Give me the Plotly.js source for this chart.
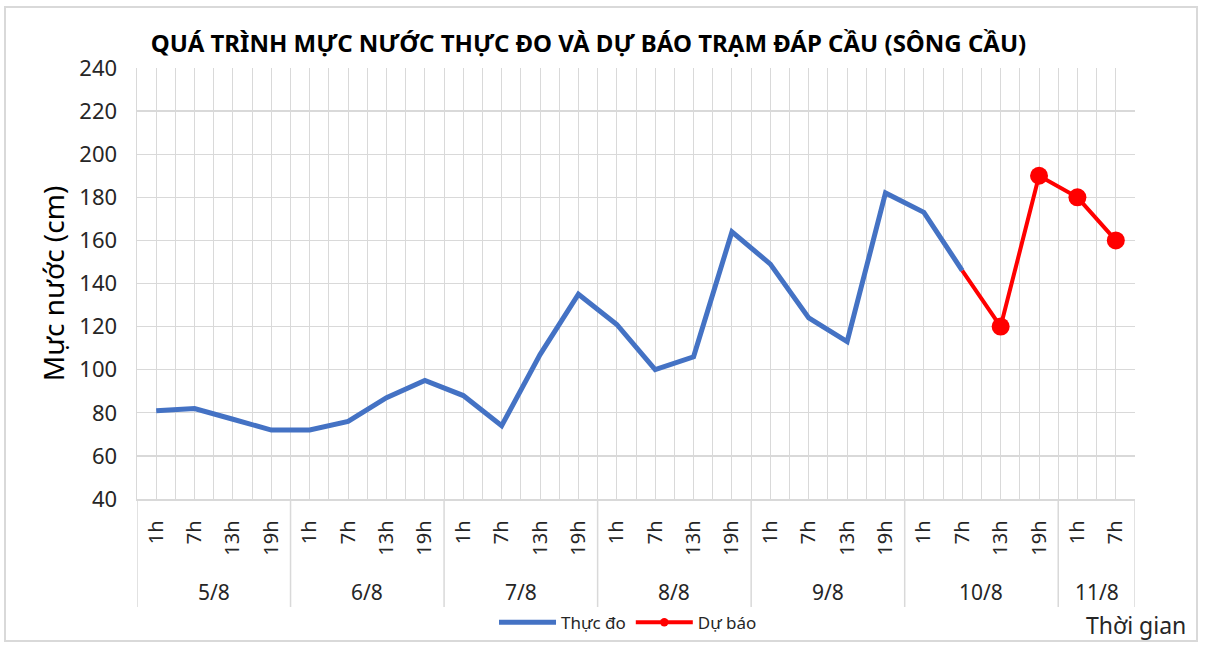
<!DOCTYPE html>
<html><head><meta charset="utf-8">
<script src="https://cdn.plot.ly/plotly-3.0.1.min.js"></script>
<style>
body{margin:0;background:#fff;}
#frame{position:absolute;left:4px;top:6px;width:1190px;height:632px;border:2px solid #d9d9d9;pointer-events:none;}
</style>
</head><body>
<div id="chart" style="width:1206px;height:646px;"></div>
<div id="frame"></div>
<script>
// ---- data ----
const hours = ['1h','7h','13h','19h','1h','7h','13h','19h','1h','7h','13h','19h','1h','7h','13h','19h','1h','7h','13h','19h','1h','7h','13h','19h','1h','7h'];
const days  = ['5/8','5/8','5/8','5/8','6/8','6/8','6/8','6/8','7/8','7/8','7/8','7/8','8/8','8/8','8/8','8/8','9/8','9/8','9/8','9/8','10/8','10/8','10/8','10/8','11/8','11/8'];
const observed = [81,82,77,72,72,76,87,95,88,74,107,135,121,100,106,164,149,124,113,182,173,146,null,null,null,null];
const forecast = [null,null,null,null,null,null,null,null,null,null,null,null,null,null,null,null,null,null,null,null,null,146,120,190,180,160];
const seriesNames = ['Thực đo','Dự báo'];
const titleText = 'QUÁ TRÌNH MỰC NƯỚC THỰC ĐO VÀ DỰ BÁO TRẠM ĐÁP CẦU (SÔNG CẦU)';
const yTitle = 'Mực nước (cm)';
const xTitle = 'Thời gian';

// ---- build ----
const idx = hours.map((_, i) => i);
const FONT = 'Noto Sans, sans-serif';

// group boundaries and centers
const groups = [];
days.forEach((d, i) => {
  if (!groups.length || groups[groups.length - 1].label !== d) groups.push({label: d, start: i, end: i});
  else groups[groups.length - 1].end = i;
});

const shapes = [];
const annotations = [];
const divDepth = -108 / 431;
groups.forEach((g, k) => {
  if (k === 0) shapes.push({type:'line', xref:'x', yref:'paper', x0:g.start-0.5, x1:g.start-0.5, y0:0, y1:divDepth, line:{color:'#d9d9d9', width:1.5}});
  shapes.push({type:'line', xref:'x', yref:'paper', x0:g.end+0.5, x1:g.end+0.5, y0:0, y1:divDepth, line:{color:'#d9d9d9', width:1.5}});
  annotations.push({xref:'x', yref:'paper', x:(g.start+g.end)/2, y:-0.2158, text:g.label, showarrow:false, yanchor:'middle', font:{family:FONT, size:21, color:'#262626'}});
});
annotations.push({xref:'paper', yref:'paper', x:1.001, y:-0.292, text:xTitle, showarrow:false, xanchor:'center', yanchor:'middle', font:{family:FONT, size:23, color:'#262626'}});

// marker sizes: hidden at the junction point (shared with observed); sizes at empty
// (null) positions are never drawn, they only set the size of the legend dot (mean).
const DOT = 18, LEGEND_FILL = 7;
const markerSizes = forecast.map((v, i) => v === null ? LEGEND_FILL : (observed[i] !== null ? 0 : DOT));

const traces = [
  {x: idx, y: observed, name: seriesNames[0], mode: 'lines', line: {color:'#4472C4', width:5}, hoverinfo:'skip'},
  {x: idx, y: forecast, name: seriesNames[1], mode: 'lines+markers', line: {color:'#FF0000', width:4},
   marker: {color:'#FF0000', size: markerSizes, opacity: 1, line: {width: 0}}, hoverinfo:'skip'}
];

const layout = {
  width: 1206, height: 646,
  margin: {l:137, r:71, t:68, b:147, autoexpand: false},
  paper_bgcolor: '#fff', plot_bgcolor: '#fff',
  showlegend: true,
  title: {text: titleText, font: {family: FONT, size: 24, color: '#000', weight: 'bold'}, x: 0.488, xanchor: 'center', y: 0.932, yanchor: 'middle'},
  xaxis: {
    range: [-0.5, idx.length - 0.5], tickmode: 'array', tickvals: idx, ticktext: hours,
    tickangle: -90, tickfont: {family: FONT, size: 20, color: '#262626'}, ticklabelstandoff: 12,
    showgrid: false, zeroline: false, ticks: '', showline: true, linecolor: '#d9d9d9', linewidth: 1.5,
    minor: {tick0: -0.5, dtick: 0.5, showgrid: true, gridcolor: '#d9d9d9', gridwidth: 1, ticks: ''},
    fixedrange: true, automargin: false
  },
  yaxis: {
    range: [40, 240], dtick: 20, tick0: 40, showgrid: true, gridcolor: '#d9d9d9', gridwidth: 1.3,
    zeroline: false, showline: true, linecolor: '#d9d9d9', linewidth: 1.5, ticks: '',
    tickfont: {family: FONT, size: 22, color: '#262626'}, ticklabelstandoff: 14,
    title: {text: yTitle, font: {family: FONT, size: 28, color: '#000'}, standoff: 6},
    fixedrange: true, automargin: false
  },
  legend: {orientation: 'h', x: 0.492, xanchor: 'center', y: -0.287, yanchor: 'middle', font: {family: FONT, size: 17, color: '#262626'}, itemwidth: 57, bgcolor: 'rgba(0,0,0,0)'},
  shapes: shapes,
  annotations: annotations
};

Plotly.newPlot('chart', traces, layout, {displayModeBar: false, staticPlot: true});
</script>
</body></html>
